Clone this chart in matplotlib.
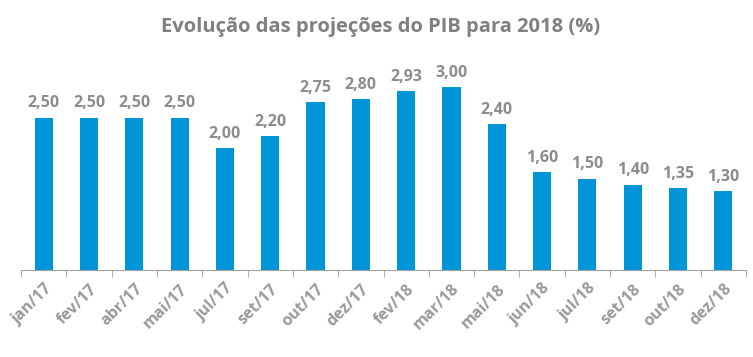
import matplotlib
matplotlib.use("Agg")
import matplotlib.pyplot as plt
import numpy as np

meses = ["jan/17", "fev/17", "abr/17", "mai/17", "jul/17", "set/17", "out/17", "dez/17",
         "fev/18", "mar/18", "mai/18", "jun/18", "jul/18", "set/18", "out/18", "dez/18"]
pib = [2.50, 2.50, 2.50, 2.50, 2.00, 2.20, 2.75, 2.80, 2.93, 3.00, 2.40, 1.60, 1.50, 1.40, 1.35, 1.30]

plt.rcParams['font.family'] = ['Open Sans', 'DejaVu Sans']
azul = "#0095d9"
cinza = "#8c8c8c"

fig = plt.figure(figsize=(7.53, 3.57), dpi=100)
ax = fig.add_axes([21/753, 87/357, 725/753, 230/357])

x = np.arange(len(meses))
ax.bar(x, pib, width=0.4, color=azul)
for xi, v in zip(x, pib):
    ax.text(xi, v + 0.1, f"{v:.2f}".replace(".", ","), ha="center", va="bottom",
            fontsize=11.5, fontweight="bold", color=cinza)

ax.set_xlim(-0.5, len(meses) - 0.5)
ax.set_ylim(0, 230/61)
ax.set_yticks([])
for s in ["top", "right", "left"]:
    ax.spines[s].set_visible(False)
ax.spines["bottom"].set_color("#a0a0a0")
ax.set_xticks(x)
ax.set_xticklabels(meses, rotation=45, ha="right", rotation_mode="anchor",
                   fontsize=11.5, fontweight="bold", color="#999999")
ax.tick_params(axis="x", which="major", length=0, pad=8)
ax.set_xticks(np.arange(-0.5, len(meses)), minor=True)
ax.tick_params(axis="x", which="minor", length=5, color="#a0a0a0")

fig.text(381/753, 1 - 27/357, "Evolução das projeções do PIB para 2018 (%)", ha="center", va="center",
         fontsize=14.5, fontweight="bold", color="#808080")

fig.savefig("out.png", dpi=100)
